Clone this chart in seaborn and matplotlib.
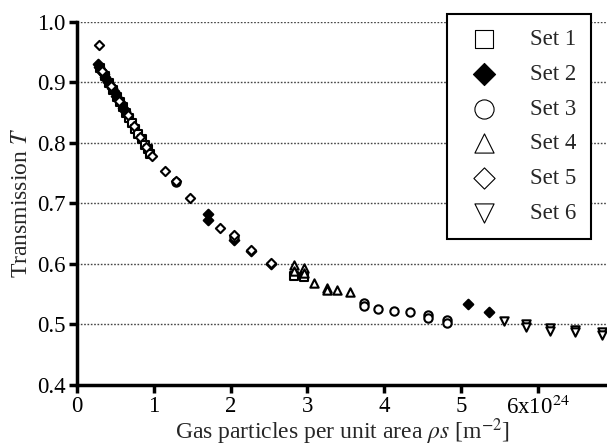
import matplotlib
matplotlib.use("Agg")
import matplotlib.pyplot as plt
import seaborn as sns
import pandas as pd

# ---- data ----
set1_x = [0.30, 0.36, 0.42, 0.47, 0.52, 0.56, 0.60, 0.64, 0.68, 0.72, 0.76, 0.80, 0.84, 0.88, 0.92, 0.95, 2.82, 2.96]
set1_y = [0.924, 0.911, 0.898, 0.887, 0.876, 0.867, 0.859, 0.850, 0.841, 0.832, 0.823, 0.815, 0.806, 0.797, 0.789, 0.782, 0.580, 0.578]

set2_x = [0.27, 0.29, 0.31, 0.33, 0.35, 0.37, 0.39, 0.41, 0.43, 0.45, 0.48, 0.51, 0.54, 0.57, 0.60, 0.63,
          1.70, 1.70, 2.04, 2.26, 2.52, 5.09, 5.36]
set2_y = [0.930, 0.926, 0.921, 0.917, 0.913, 0.908, 0.904, 0.900, 0.896, 0.891, 0.885, 0.878, 0.872, 0.865, 0.858, 0.852,
          0.683, 0.673, 0.640, 0.622, 0.600, 0.534, 0.520]

set3_x = [1.29, 2.04, 3.74, 3.74, 3.92, 4.13, 4.34, 4.57, 4.57, 4.82, 4.82]
set3_y = [0.735, 0.645, 0.535, 0.530, 0.525, 0.523, 0.520, 0.515, 0.511, 0.508, 0.503]

set4_x = [2.82, 2.82, 2.96, 2.96, 3.09, 3.26, 3.26, 3.39, 3.56]
set4_y = [0.598, 0.588, 0.593, 0.585, 0.569, 0.560, 0.557, 0.557, 0.553]

set5_x = [0.28, 0.32, 0.44, 0.55, 0.66, 0.74, 0.82, 0.90, 0.97, 1.14, 1.29, 1.47, 1.86, 2.04, 2.26, 2.52]
set5_y = [0.961, 0.919, 0.893, 0.869, 0.846, 0.828, 0.810, 0.793, 0.779, 0.754, 0.737, 0.709, 0.659, 0.647, 0.623, 0.601]

set6_x = [5.56, 5.84, 5.84, 6.16, 6.16, 6.48, 6.48, 6.83, 6.83]
set6_y = [0.505, 0.501, 0.496, 0.494, 0.489, 0.491, 0.487, 0.488, 0.483]

set_names = ["Set 1", "Set 2", "Set 3", "Set 4", "Set 5", "Set 6"]
x_ticks = [0, 1, 2, 3, 4, 5, 6]
x_tick_labels = ["0", "1", "2", "3", "4", "5", "6x10$^{24}$"]
y_ticks = [0.4, 0.5, 0.6, 0.7, 0.8, 0.9, 1.0]
y_tick_labels = ["0.4", "0.5", "0.6", "0.7", "0.8", "0.9", "1.0"]

xs = [set1_x, set2_x, set3_x, set4_x, set5_x, set6_x]
ys = [set1_y, set2_y, set3_y, set4_y, set5_y, set6_y]

frames = []
for name, x, y in zip(set_names, xs, ys):
    frames.append(pd.DataFrame({"x": x, "y": y, "set": name}))
df = pd.concat(frames, ignore_index=True)

# ---- style ----
sns.set_theme(style="white")
plt.rcParams["font.family"] = ["Liberation Serif", "DejaVu Serif"]
plt.rcParams["mathtext.fontset"] = "stix"
FS = 16.5
plt.rcParams["font.size"] = FS

markers = {"Set 1": "s", "Set 2": "D", "Set 3": "o", "Set 4": "^", "Set 5": "D", "Set 6": "v"}
sizes = {"Set 1": 30, "Set 2": 24, "Set 3": 36, "Set 4": 36, "Set 5": 22, "Set 6": 36}
faces = {"Set 1": "white", "Set 2": "black", "Set 3": "white", "Set 4": "white", "Set 5": "white", "Set 6": "white"}

fig = plt.figure(figsize=(6.07, 4.47), dpi=100)
ax = fig.add_axes([77 / 607, 1 - 385 / 447, 1 - 77 / 607, (385 - 21.7) / 447])

for name in set_names:
    sub = df[df["set"] == name]
    sns.scatterplot(data=sub, x="x", y="y", marker=markers[name], s=sizes[name],
                    facecolor=faces[name], edgecolor="black", linewidth=1.5,
                    label=name, ax=ax, zorder=3)

ax.set_xlim(0, 6.9)
ax.set_ylim(0.4, 1.0)
ax.set_xticks(x_ticks)
ax.set_xticklabels(x_tick_labels, fontsize=FS)
ax.set_yticks(y_ticks)
ax.set_yticklabels(y_tick_labels, fontsize=FS)

for yv in y_ticks[1:]:
    ax.axhline(yv, color="#444444", linestyle=(0, (1.2, 1.2)), linewidth=1.0, zorder=1)

for s in ["top", "right"]:
    ax.spines[s].set_visible(False)
for s in ["left", "bottom"]:
    ax.spines[s].set_linewidth(2.5)
    ax.spines[s].set_color("black")
ax.tick_params(axis="both", direction="out", length=6, width=2.5, color="black",
               labelcolor="black", pad=2, bottom=True, left=True)

ax.set_xlabel(r"Gas particles per unit area $\rho s$ [m$^{-2}$]", fontsize=17, labelpad=-2)
ax.set_ylabel(r"Transmission $T$", fontsize=17, labelpad=4)

leg = ax.legend(loc="upper right", bbox_to_anchor=(591 / 607, 1 - 14 / 447),
                bbox_transform=fig.transFigure, frameon=True, fancybox=False,
                markerscale=2.3, fontsize=FS, borderpad=0.65, handlelength=2.0,
                handletextpad=0.98, labelspacing=0.6, borderaxespad=0.0)
leg.get_frame().set_edgecolor("black")
leg.get_frame().set_linewidth(1.5)
leg.get_frame().set_facecolor("white")
leg.get_frame().set_alpha(1.0)
for h in leg.legend_handles:
    h.set_linewidth(0.8)
leg.set_zorder(10)

fig.savefig("out.png", dpi=100)
